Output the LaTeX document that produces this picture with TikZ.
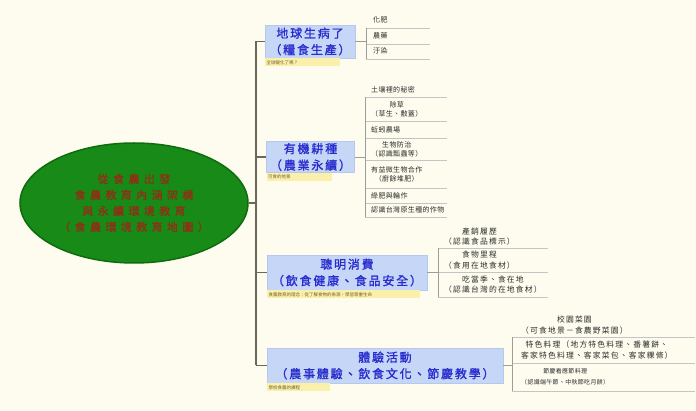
\documentclass[tikz,border=0pt]{standalone}
\usepackage{fontspec}
\setmainfont{Noto Sans CJK TC}
\newfontfamily\cjk{Noto Sans CJK TC}
\newfontfamily\rootfont{Noto Sans CJK TC}[LetterSpace=40,FakeBold=1.5]
\newfontfamily\brfont{Noto Sans CJK TC}[LetterSpace=15,FakeBold=1.2]
\newfontfamily\subfont{Noto Sans CJK TC}[LetterSpace=15]
\newfontfamily\subnarrow{Noto Sans CJK TC}[LetterSpace=5]
\usetikzlibrary{shapes.geometric}
\definecolor{bgcol}{RGB}{253,252,238}
\definecolor{rootgreen}{RGB}{24,138,24}
\definecolor{rootedge}{RGB}{14,108,14}
\definecolor{roottext}{RGB}{140,50,20}
\definecolor{brfill}{RGB}{197,214,247}
\definecolor{bredge}{RGB}{182,200,236}
\definecolor{brtext}{RGB}{40,44,205}
\definecolor{notefill}{RGB}{250,240,172}
\definecolor{notetext}{RGB}{120,96,40}
\definecolor{itemtext}{RGB}{45,45,45}
\definecolor{sepgray}{RGB}{196,196,196}
\definecolor{trunkcol}{RGB}{108,104,88}
\tikzset{
  rootnode/.style={ellipse, fill=rootgreen, draw=rootedge, line width=1.5pt,
    minimum width=228pt, minimum height=120pt, inner sep=0pt, text=roottext,
    font=\rootfont\fontsize{11}{16}\selectfont, align=center},
  branch/.style={fill=brfill, draw=bredge, line width=.4pt, text=brtext,
    font=\brfont\fontsize{12}{16.5}\selectfont, align=center, inner sep=1pt},
  note/.style={fill=notefill, text=notetext, font=\cjk\fontsize{4.5}{5}\selectfont,
    anchor=north west, inner sep=1.5pt, minimum height=8pt, align=left},
  item/.style={anchor=north west, align=center, text=itemtext, inner sep=1pt},
  itemA/.style={item, font=\subnarrow\fontsize{7}{9.5}\selectfont},
  itemB/.style={item, font=\subfont\fontsize{7.8}{10.5}\selectfont},
  itemC/.style={item, font=\subnarrow\fontsize{6}{11}\selectfont},
  sepline/.style={draw=sepgray, line width=.6pt},
  trunk/.style={draw=trunkcol, line width=1.2pt},
  twig/.style={draw=sepgray!80!black, line width=.6pt},
}
\begin{document}
\begin{tikzpicture}[x=1pt,y=-1pt]
\fill[bgcol] (0,0) rectangle (696,411);
\useasboundingbox (0,0) rectangle (696,411);

% root
\node[rootnode] (root) at (134,203)
  {從食農出發\\食農教育內涵架構\\與永續環境教育\\（食農環境教育地圖）};

% trunk coordinate
\coordinate (T) at (256,0);

% branches
\node[branch, minimum width=90pt, minimum height=33pt] (b1) at (310,41.5) {地球生病了\\（糧食生產）};
\node[branch, minimum width=88pt, minimum height=31pt] (b2) at (310.5,157) {有機耕種\\（農業永續）};
\node[branch, minimum width=160pt, minimum height=35pt] (b3) at (347,272.5) {聰明消費\\（飲食健康、食品安全）};
\node[branch, minimum width=236pt, minimum height=35pt] (b4) at (385,365.5) {體驗活動\\（農事體驗、飲食文化、節慶教學）};

% notes
\node[note, text width=72pt] (n1) at (b1.south west) {全球暖化了嗎？};
\node[note, text width=62pt] (n2) at (b2.south west) {可食的地景};
\node[note, text width=150pt] (n3) at (b3.south west) {食農教育的理念：從了解食物的來源，學習尊重生命};
\node[note, text width=60pt] (n4) at (b4.south west) {學校食農的課程};

% trunk lines
\draw[trunk] (b1.west -| T) -- (b4.west -| T);
\draw[trunk] (root.east) -- (root.east -| T);
\foreach \b in {b1,b2,b3,b4} \draw[trunk] (\b.west -| T) -- (\b.west);

% list 1
\coordinate (L1) at (366,0); \coordinate (R1) at (430,0);
\node[itemA, minimum height=15.5pt] (s11) at (372,12) {化肥};
\node[itemA, minimum height=16pt] (s12) at (372,27.5) {農藥};
\node[itemA, minimum height=15pt] (s13) at (372,43.5) {汙染};
\foreach \s in {s11,s12,s13} \draw[sepline] (\s.south -| L1) -- (\s.south -| R1);
\draw[twig] (s11.south -| L1) -- (s13.south -| L1);
\draw[twig] (b1.east) -- (b1.east -| L1);

% list 2
\coordinate (L2) at (365,0); \coordinate (R2) at (447,0);
\node[itemA, minimum height=14pt] (s21) at (370,83) {土壤裡的秘密};
\node[itemA, minimum height=24pt] (s22) at (370,97) {除草\\（草生、敷蓋）};
\node[itemA, minimum height=17pt] (s23) at (370,121) {蚯蚓農場};
\node[itemA, minimum height=22pt] (s24) at (370,138) {生物防治\\（認識瓢蟲等）};
\node[itemA, minimum height=28pt] (s25) at (370,160) {有益微生物合作\\（廚餘堆肥）};
\node[itemA, minimum height=15pt] (s26) at (370,188) {綠肥與輪作};
\node[itemA, minimum height=14pt] (s27) at (370,203) {認識台灣原生種的作物};
\foreach \s in {s21,s22,s23,s24,s25,s26,s27} \draw[sepline] (\s.south -| L2) -- (\s.south -| R2);
\draw[twig] (s21.south -| L2) -- (s27.south -| L2);
\draw[twig] (b2.east) -- (b2.east -| L2);

% list 3
\coordinate (L3) at (438,0); \coordinate (R3) at (548,0);
\node[itemB, minimum height=23pt] (s31) at (443,225) {產銷履歷\\（認識食品標示）};
\node[itemB, minimum height=24pt] (s32) at (443,248) {食物里程\\（食用在地食材）};
\node[itemB, minimum height=25pt] (s33) at (443,272) {吃當季、食在地\\（認識台灣的在地食材）};
\foreach \s in {s31,s32,s33} \draw[sepline] (\s.south -| L3) -- (\s.south -| R3);
\draw[twig] (s31.south -| L3) -- (s33.south -| L3);
\draw[twig] (b3.east) -- (b3.east -| L3);

% list 4
\coordinate (L4) at (512,0); \coordinate (R4) at (695,0);
\node[itemB, minimum height=24pt] (s41) at (520,313) {校園菜園\\（可食地景－食農野菜園）};
\node[itemB, minimum height=26pt] (s42) at (520,337) {特色料理（地方特色料理、番薯餅、\\客家特色料理、客家菜包、客家粿條）};
\node[itemC, minimum height=28pt] (s43) at (520,363) {節慶看應節料理\\（認識端午節、中秋節吃月餅）};
\foreach \s in {s41,s42,s43} \draw[sepline] (\s.south -| L4) -- (\s.south -| R4);
\draw[twig] (s41.south -| L4) -- (s43.south -| L4);
\draw[twig] (b4.east) -- (b4.east -| L4);
\end{tikzpicture}
\end{document}
